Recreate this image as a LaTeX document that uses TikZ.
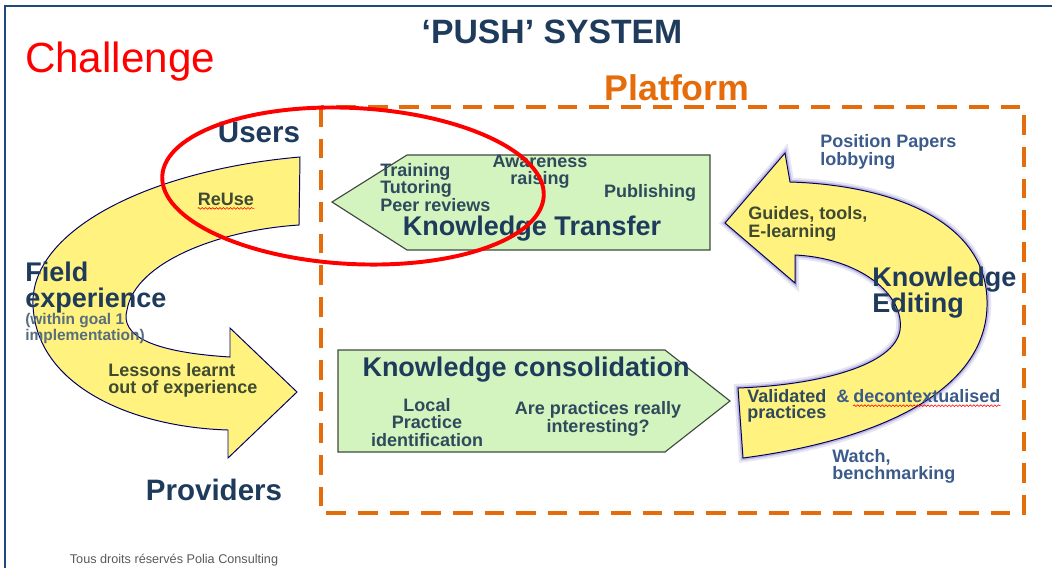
\documentclass[tikz,border=0pt]{standalone}
\usepackage{fontspec}
\setmainfont{Liberation Sans}
\usetikzlibrary{positioning, decorations.pathmorphing}
\definecolor{framebl}{HTML}{1F497D}
\definecolor{titlenavy}{HTML}{1F3B5C}
\definecolor{platorange}{HTML}{E46C0A}
\definecolor{boxgreen}{HTML}{D3F3BF}
\definecolor{boxedge}{HTML}{3E4A3E}
\definecolor{arrowyellow}{HTML}{FFF27E}
\definecolor{slatetext}{HTML}{2E4A5C}
\definecolor{olivetext}{HTML}{3E4A32}
\definecolor{paleblue}{HTML}{3B5B8A}
\definecolor{glow}{HTML}{5B4FB0}
\tikzset{heading/.style={font=\bfseries\fontsize{21}{20}\selectfont, text=titlenavy},
bigtext/.style={font=\bfseries\fontsize{19.2}{17.8}\selectfont, text=titlenavy, align=left},
smalltext/.style={font=\bfseries\fontsize{12.8}{12.3}\selectfont, text=slatetext, align=left},
greenbox/.style={fill=boxgreen, draw=boxedge, line width=0.8pt},
yellowarrow/.style={fill=arrowyellow, draw=black!60!blue, line width=0.7pt},
platformedge/.style={draw=platorange, line width=2.8pt, dash pattern=on 14pt off 8.5pt},
spellmark/.style={draw=red, line width=0.4pt, decorate, decoration={snake, amplitude=0.6pt, segment length=2.5pt}},
ring/.style={draw=red, line width=2.8pt}
}

\begin{document}
\begin{tikzpicture}[x=0.025cm, y=-0.025cm, every node/.style={inner sep=0pt}]
\useasboundingbox (0,0) rectangle (1052,568);
\draw[framebl, line width=1.4pt] (1052,6) -- (5,6) -- (5,568);

% titles
\node[font=\fontsize{30}{32}\selectfont, text=red] (challenge) at (120,62) {Challenge};
\node[font=\bfseries\fontsize{24}{26}\selectfont, text=titlenavy] (push) at (552,32) {‘PUSH’ SYSTEM};
\node[font=\bfseries\fontsize{25.4}{26}\selectfont, text=platorange] (platform) at (677,88) {Platform};
\draw[platformedge] (321,107) rectangle (1024,513);

% users / providers loop
\draw[yellowarrow] (300,157) .. controls (150,170) and (30,230) .. (33,305)
  .. controls (36,385) and (130,427) .. (228,430)
  -- (228,458) -- (297,392) -- (230,328) -- (230,357)
  .. controls (150,352) and (120,335) .. (127,310)
  .. controls (135,262) and (220,230) .. (299,225) -- cycle;
\node[heading] (users) at (259,132) {Users};
\node[heading] (providers) at (214,490) {Providers};
\node[smalltext, text=olivetext] (reuse) at (226,199) {ReUse};
\draw[spellmark] ([yshift=-2pt]reuse.south west) -- ([yshift=-2pt]reuse.south east);
\node[bigtext, anchor=west] (field) at (25,287.5) {Field\\experience};
\node[font=\bfseries\fontsize{11}{10.7}\selectfont, text=slatetext!80, align=left, anchor=west] (goal) at (25,328.5) {(within goal 1\\implementation)};
\node[smalltext, text=olivetext, anchor=west] (lessons) at (108,380.5) {Lessons learnt\\out of experience};

% knowledge transfer
\draw[greenbox] (332,202) -- (407,155) -- (710,155) -- (710,250) -- (407,250) -- cycle;
\node[smalltext, anchor=west] (training) at (380,187.5) {Training\\Tutoring\\Peer reviews};
\node[smalltext, align=center] (awareness) at (540,171.5) {Awareness\\raising};
\node[smalltext] (publishing) at (650,193) {Publishing};
\node[bigtext] (transfer) at (532,229) {Knowledge Transfer};

% knowledge consolidation
\draw[greenbox] (338,350) -- (665,350) -- (730,401) -- (665,452) -- (338,452) -- cycle;
\node[bigtext] (consolidation) at (526,370) {Knowledge consolidation};
\node[smalltext, align=center] (local) at (427,422.5) {Local\\Practice\\identification};
\node[smalltext, align=center] (really) at (598,419) {Are practices really\\interesting?};

% knowledge editing loop
\draw[yellowarrow, preaction={draw=glow, draw opacity=0.15, line width=6pt}, preaction={draw=glow, draw opacity=0.3, line width=3pt}] (743,458) .. controls (880,440) and (990,390) .. (987,300)
  .. controls (985,220) and (890,185) .. (790,182)
  -- (785,153) -- (725,223) -- (795,283) -- (795,255)
  .. controls (860,258) and (905,295) .. (900,330)
  .. controls (895,365) and (820,385) .. (738,388) -- cycle;
\node[smalltext, text=paleblue, anchor=west] (position) at (820,152) {Position Papers\\lobbying};
\node[smalltext, text=olivetext, anchor=west] (guides) at (748,224) {Guides, tools,\\E-learning};
\node[bigtext, anchor=west] (editing) at (872,292.5) {Knowledge\\Editing};
\node[smalltext, anchor=west] (validated) at (747,396) {Validated \ \textcolor{paleblue}{\&}};
\node[smalltext, text=paleblue, right=0.25em of validated] (decontext) {decontextualised};
\draw[spellmark] ([yshift=-2pt]decontext.south west) -- ([yshift=-2pt]decontext.south east);
\node[smalltext, anchor=west] (practices) at (747,414) {practices};
\node[smalltext, text=paleblue, anchor=west] (watch) at (832,466.5) {Watch,\\benchmarking};

\node[font=\fontsize{9}{10}\selectfont, text=black!65] (rights) at (174,560) {Tous droits réservés Polia Consulting};

% the challenge ring
\draw[ring, rotate around={-3:(353,186)}] (353,186) ellipse [x radius=191, y radius=78];
\end{tikzpicture}
\end{document}
